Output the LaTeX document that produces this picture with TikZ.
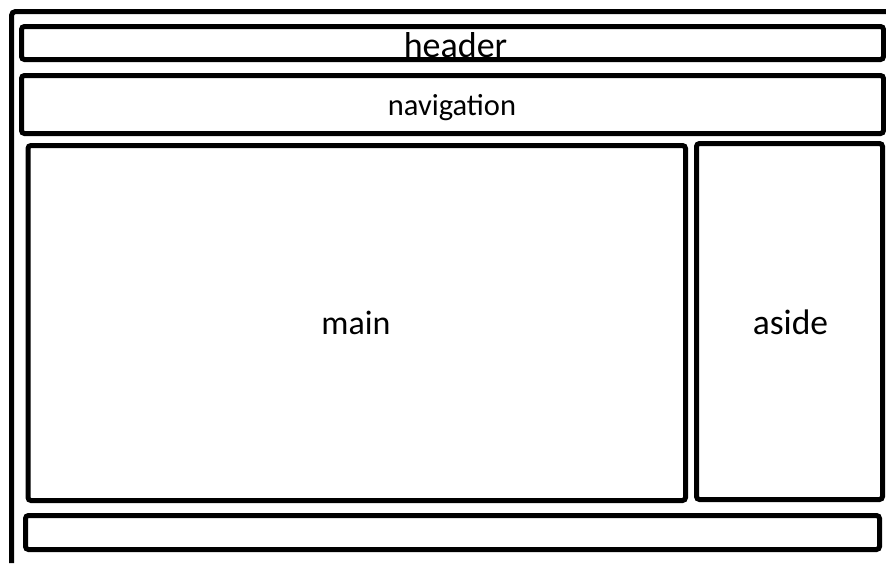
\documentclass[tikz,border=0pt]{standalone}
\usepackage{fontspec}
\setmainfont{Carlito}
\begin{document}
\begin{tikzpicture}[x=1pt,y=-1pt,
  box/.style={draw=black,line width=5pt,rounded corners=3pt,fill=none,inner sep=0pt},
  lbl/.style={inner sep=0pt,anchor=base,text=black}]
\useasboundingbox[fill=white] (0,0) rectangle (886,563);
% outer frame (open on right and bottom)
\coordinate (fa) at (11.5,563);
\coordinate (fb) at (11.5,11.5);
\coordinate (fc) at (886,11.5);
\draw[line width=5pt,rounded corners=4pt] (fa) -- (fb) -- (fc);
% boxes
\node[box,minimum width=862pt,minimum height=33pt] (header) at (452.5,43) {};
\node[box,minimum width=862pt,minimum height=58pt] (nav) at (452.5,104.5) {};
\node[box,minimum width=657.5pt,minimum height=355pt] (main) at (356.75,323) {};
\node[box,minimum width=186pt,minimum height=356pt] (aside) at (789.5,321.5) {};
\node[box,minimum width=854pt,minimum height=34pt] (footer) at (452.5,532.5) {};
% labels
\node[lbl,font=\fontsize{36}{40}\selectfont] (headert) at (455.5,57) {header};
\node[lbl,font=\fontsize{30.5}{34}\selectfont] (navt) at (452,115.5) {navigation};
\node[lbl,font=\fontsize{34}{38}\selectfont] (maint) at (356,334) {main};
\node[lbl,font=\fontsize{35.5}{39}\selectfont] (asidet) at (790.5,334) {aside};
\end{tikzpicture}
\end{document}
